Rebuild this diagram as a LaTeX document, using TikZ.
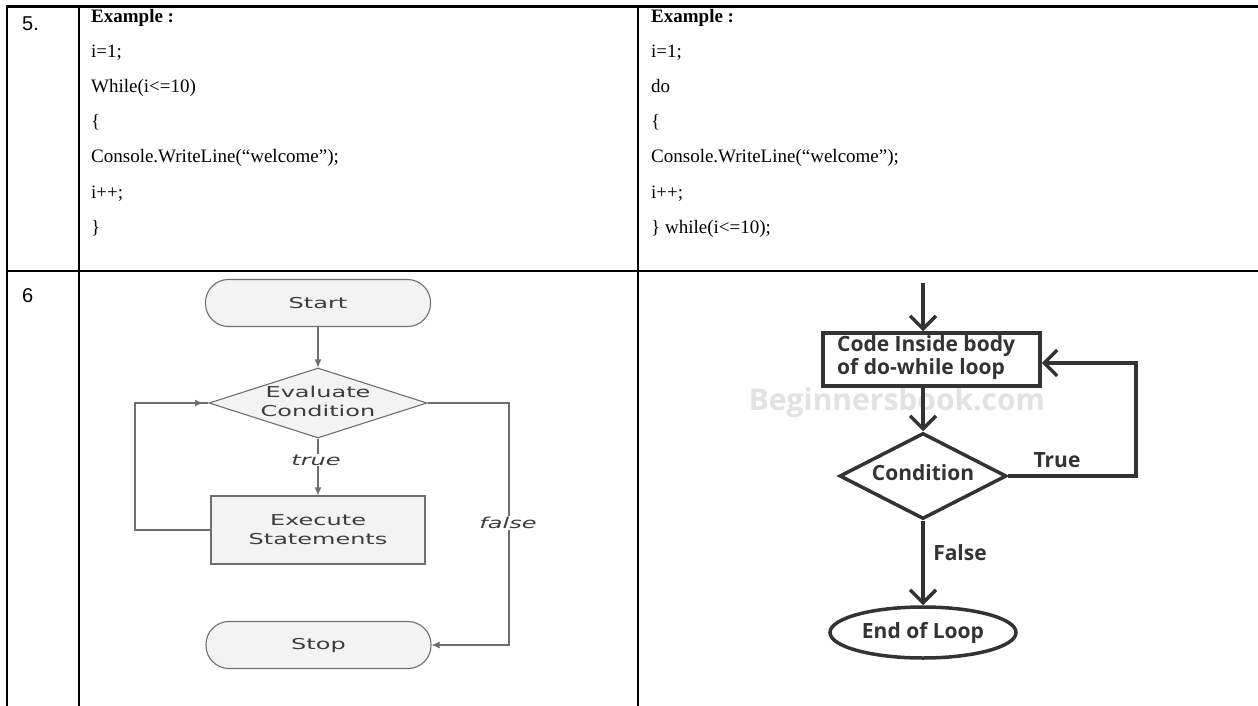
\documentclass[tikz,border=0pt]{standalone}
\usepackage{fontspec}
\setmainfont{Liberation Serif}
\newfontfamily\arialf{Liberation Sans}
\newfontfamily\flowf[FakeStretch=1.6]{DejaVu Sans}
\newfontfamily\bbf{Open Sans}
\usetikzlibrary{shapes.geometric,arrows.meta}
\definecolor{lgline}{HTML}{6E6E6E}
\definecolor{lgfill}{HTML}{F3F3F3}
\definecolor{lgtext}{HTML}{3C3C3C}
\definecolor{bbc}{HTML}{333333}
\definecolor{wmark}{HTML}{E2E2E2}
\tikzset{
  tline/.style={line width=2.7},
  vline/.style={line width=2},
  thinrow/.style={line width=1.3},
  codet/.style={anchor=base west, inner sep=0, font=\fontsize{19}{23}\selectfont},
  numt/.style={anchor=base west, inner sep=0, font=\arialf\fontsize{20}{24}\selectfont},
  ltext/.style={inner sep=0, align=center, text=lgtext, font=\flowf\fontsize{15}{19}\selectfont},
  lterm/.style={ltext, draw=lgline, fill=lgfill, line width=1.1, rounded corners=23, minimum width=225, minimum height=47},
  lbox/.style={ltext, draw=lgline, fill=lgfill, line width=1.1, minimum width=214, minimum height=68},
  ldia/.style={diamond, draw=lgline, fill=lgfill, line width=1.1, inner sep=0, minimum width=218, minimum height=70},
  llabel/.style={inner sep=1, fill=white, text=lgtext, font=\flowf\itshape\fontsize{15}{19}\selectfont},
  larrow/.style={draw=lgline, line width=1.1, -{Latex[length=8,width=7]}},
  lline/.style={draw=lgline, line width=1.1},
  bbtext/.style={inner sep=0, text=bbc, font=\bbf\bfseries\fontsize{21}{23}\selectfont},
  bbbox/.style={draw=bbc, line width=3.5, minimum width=217, minimum height=53, inner sep=0},
  bbdia/.style={diamond, draw=bbc, line width=3.5, inner sep=0, minimum width=167, minimum height=86},
  bbell/.style={bbtext, ellipse, draw=bbc, line width=3.5, minimum width=186, minimum height=51},
  bbarrow/.style={draw=bbc, line width=3.5, -{Straight Barb[length=13,width=26]}},
  bbplain/.style={draw=bbc, line width=3.5}
}
\begin{document}
\begin{tikzpicture}[x=1pt,y=-1pt]
\useasboundingbox (0,0) rectangle (1258,706);
\fill[white] (0,0) rectangle (1258,706);
% table
\draw[tline] (7,6.5) -- (1258,6.5);
\draw[vline] (7,5.5) -- (7,706);
\draw[vline] (79,5.5) -- (79,706);
\draw[vline] (638,5.5) -- (638,706);
\draw[tline] (7,271) -- (97,271);
\draw[tline] (567,271) -- (655,271);
\draw[tline] (1243,271) -- (1258,271);
\draw[thinrow] (97,271) -- (567,271);
\draw[thinrow] (655,271) -- (1243,271);
% numbers
\node[numt] (n5) at (22,31) {5.};
\node[numt] (n6) at (22,302) {6};
% left code
\node[codet] (a1) at (91,23) {\textbf{Example :}};
\node[codet] (a2) at (91,58) {i=1;};
\node[codet] (a3) at (91,93) {While(i<=10)};
\node[codet] (a4) at (91,128) {\{};
\node[codet] (a5) at (91,163) {Console.WriteLine(“welcome”);};
\node[codet] (a6) at (91,198) {i++;};
\node[codet] (a7) at (91,233) {\}};
% right code
\node[codet] (b1) at (651,23) {\textbf{Example :}};
\node[codet] (b2) at (651,58) {i=1;};
\node[codet] (b3) at (651,93) {do};
\node[codet] (b4) at (651,128) {\{};
\node[codet] (b5) at (651,163) {Console.WriteLine(“welcome”);};
\node[codet] (b6) at (651,198) {i++;};
\node[codet] (b7) at (651,233) {\} while(i<=10);};
% left flowchart
\node[lterm] (start) at (318,303) {Start};
\node[ldia] (eval) at (318,403) {};
\node[ltext] (evalt) at (318,401.5) {Evaluate\\Condition};
\node[lbox] (exec) at (318,530) {Execute\\Statements};
\node[lterm] (stop) at (318.5,645) {Stop};
\draw[larrow] (start) -- (eval);
\draw[larrow] (eval) -- (exec);
\node[llabel] (truel) at (316,460) {true};
\coordinate (lp) at (135,530);
\coordinate (la) at (203,403);
\draw[lline] (exec.west) -- (lp) |- (eval.west);
\draw[larrow] (lp |- eval.west) -- (la);
\coordinate (fr) at (509,403);
\coordinate (fb) at (509,645);
\draw[larrow] (eval.east) -- (fr) -- (fb) -- (stop.east);
\node[llabel] (falsel) at (508,523) {false};
% right flowchart
\node[bbtext, text=wmark, font=\bbf\bfseries\fontsize{30}{32}\selectfont] (wm) at (897,403) {Beginnersbook.com};
\node[bbbox] (body) at (931.5,359.5) {};
\node[bbtext, anchor=west, align=left] (bodyt) at (837,358) {Code Inside body\\of do-while loop};
\node[bbdia] (cond) at (923,476) {};
\node[bbtext] (condt) at (923,473) {Condition};
\node[bbell] (endl) at (923,632.5) {End of Loop};
\coordinate (entry) at (923,283);
\draw[bbarrow] (entry) -- (entry |- body.north);
\draw[bbarrow] (body.south -| cond.north) -- (cond.north);
\draw[bbarrow] (cond.south) -- (endl.north);
\coordinate (tr) at (1136,476);
\coordinate (tt) at (1136,363);
\draw[bbarrow] (cond.east) -- (tr) -- (tt) -- (tt -| body.east);
\node[bbtext] (truel2) at (1057,460) {True};
\node[bbtext] (falsel2) at (960,553) {False};
\end{tikzpicture}
\end{document}
